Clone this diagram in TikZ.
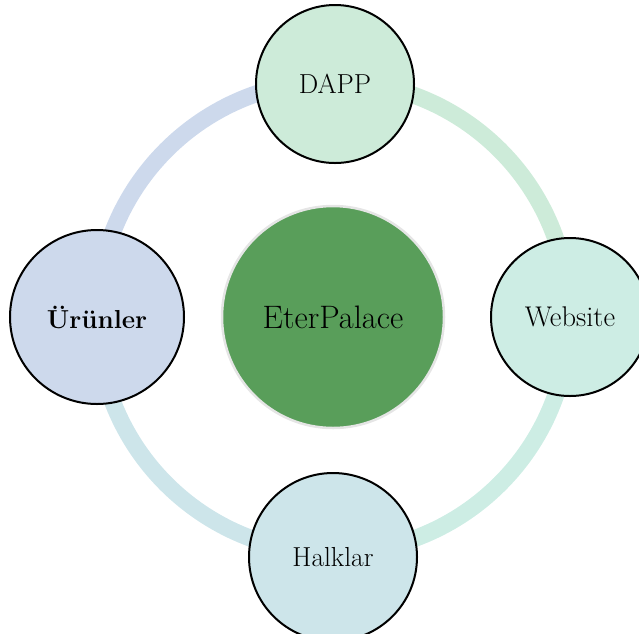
\documentclass[tikz,border=0pt]{standalone}
\definecolor{cblue}{RGB}{205,217,236}
\definecolor{cgreen}{RGB}{205,235,217}
\definecolor{cmint}{RGB}{205,237,228}
\definecolor{cteal}{RGB}{205,229,234}
\definecolor{ccenter}{RGB}{89,158,90}
\definecolor{crim}{RGB}{229,229,229}
\begin{document}
\begin{tikzpicture}[x=1pt,y=-1pt,
  sat/.style={circle,draw=black,line width=2pt,inner sep=0pt,font=\fontsize{27.5}{32}\selectfont},
  ring/.style={line width=17pt}]
\useasboundingbox (0,0) rectangle (639,633);
\coordinate (c) at (333,317);
% ring quadrants (y axis points down, so angles are mirrored)
\draw[ring,cgreen] ([shift={(0:236)}]c) arc[start angle=0,end angle=-90,radius=236];
\draw[ring,cblue] ([shift={(-90:236)}]c) arc[start angle=-90,end angle=-180,radius=236];
\draw[ring,cteal] ([shift={(180:236)}]c) arc[start angle=180,end angle=90,radius=236];
\draw[ring,cmint] ([shift={(90:236)}]c) arc[start angle=90,end angle=0,radius=236];
% nodes
\node[circle,fill=ccenter,draw=crim,line width=2.5pt,minimum size=222pt,inner sep=0pt,font=\fontsize{32.5}{38}\selectfont] (center) at (c) {EterPalace};
\node[sat,fill=cgreen,minimum size=158pt] (dapp) at (335,84) {DAPP};
\node[sat,fill=cmint,minimum size=158pt,font=\fontsize{28.5}{33}\selectfont] (web) at (570,317) {Website};
\node[sat,fill=cteal,minimum size=168pt] (halk) at (333,557) {Halklar};
\node[sat,fill=cblue,minimum size=174pt,font=\fontsize{26}{30}\selectfont\bfseries] (urun) at (97,317) {Ürünler};
\end{tikzpicture}
\end{document}
